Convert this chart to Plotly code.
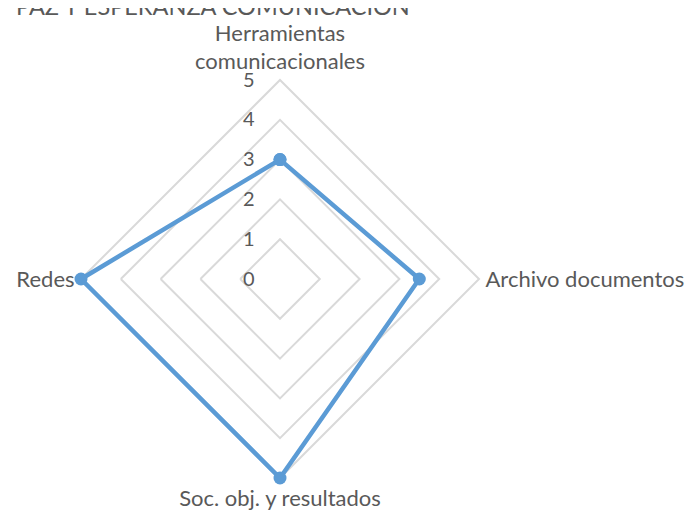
import plotly.graph_objects as go

categories = ["Herramientas<br>comunicacionales", "Archivo documentos",
              "Soc. obj. y resultados", "Redes"]
values = [3, 3.5, 5, 5]
radial_ticks = [0, 1, 2, 3, 4, 5]
r_max = 5.15  # a bit of room so the line on the outer ring is not clipped

W, H = 694, 517
# page body has an 8px margin, so shift everything back by 8px
cx, cy = 280 - 8, 279 - 8
rad = 199 * r_max / 5

fig = go.Figure()
fig.add_trace(go.Scatterpolar(
    r=values + values[:1],
    theta=categories + categories[:1],
    mode="lines+markers",
    line=dict(color="#5B9BD5", width=4.5),
    marker=dict(color="#5B9BD5", size=13),
    cliponaxis=False,
    showlegend=False,
))

# title sits partly above the top edge, like the reference
fig.add_annotation(text="PAZ Y ESPERANZA COMUNICACIÓN", xref="paper", yref="paper",
                   x=(14 - 8) / W, y=1, xanchor="left", yanchor="middle",
                   yshift=2, showarrow=False,
                   font=dict(size=23.5, color="#595959"))

fig.update_layout(
    width=W, height=H,
    margin=dict(l=0, r=0, t=0, b=0),
    paper_bgcolor="white",
    font=dict(family="Lato", color="#595959", size=20),
    polar=dict(
        domain=dict(x=[(cx - rad) / W, (cx + rad) / W],
                    y=[1 - (cy + rad) / H, 1 - (cy - rad) / H]),
        bgcolor="white",
        gridshape="linear",
        angularaxis=dict(direction="clockwise", rotation=90,
                         showgrid=False, showline=False,
                         ticks="", tickfont=dict(size=22)),
        radialaxis=dict(range=[0, r_max], tickvals=radial_ticks, angle=90,
                        tickangle=90, showline=False,
                        ticks="outside", ticklen=18,
                        tickcolor="rgba(0,0,0,0)",
                        gridcolor="#D9D9D9", gridwidth=1.5,
                        side="counterclockwise",
                        tickfont=dict(size=20)),
    ),
)

fig.write_html("out.html")
